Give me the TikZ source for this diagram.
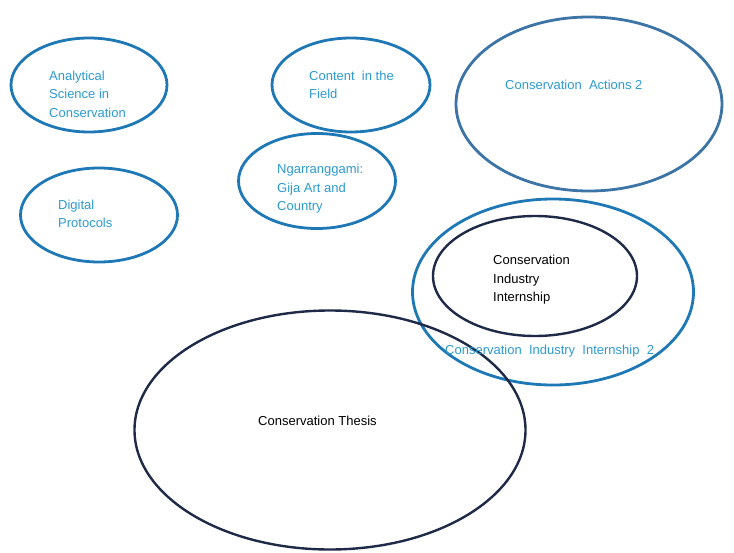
\documentclass[tikz,border=0pt]{standalone}
\usepackage{fontspec}
\setmainfont{Liberation Sans}
\usetikzlibrary{shapes.geometric}
\definecolor{ringblue}{HTML}{1F78B6}
\definecolor{ringsteel}{HTML}{3D74A6}
\definecolor{ringnavy}{HTML}{1E2A48}
\definecolor{txtblue}{HTML}{2C9AD2}
\tikzset{
  ring/.style={ellipse, draw=ringblue, line width=2.8pt, inner sep=0pt},
  darkring/.style={ellipse, draw=ringnavy, line width=2.4pt, inner sep=0pt},
  lbl/.style={text=txtblue, align=left, anchor=west, inner sep=0pt, font=\fontsize{13}{18.5}\selectfont},
  dlbl/.style={lbl, text=black},
}
\begin{document}
\begin{tikzpicture}[x=1pt,y=-1pt]
\useasboundingbox (0,0) rectangle (734,552);
\node[ring, minimum width=156, minimum height=94] (e1) at (89,85) {};
\node[ring, minimum width=157, minimum height=94] (e2) at (99,215) {};
\node[ring, minimum width=158, minimum height=94] (e3) at (351,85) {};
\node[ring, minimum width=157, minimum height=95] (e4) at (317,181) {};
\node[ring, draw=ringsteel, minimum width=266, minimum height=174] (e5) at (589,104) {};
\node[ring, minimum width=281, minimum height=186] (e6) at (553,292) {};
\node[darkring, minimum width=204, minimum height=120] (e7) at (535,276) {};
\node[darkring, minimum width=391, minimum height=239] (e8) at (330,430) {};

\node[lbl] (t1) at (49,94) {Analytical\\Science in\\Conservation};
\node[lbl] (t2) at (58,214) {Digital\\Protocols};
\node[lbl] (t3) at (309,85) {Content\ \ in the\\Field};
\node[lbl] (t4) at (277,189) {Ngarranggami:\\Gija Art and\\Country};
\node[lbl] (t5) at (505,85) {Conservation\ \ Actions 2};
\node[dlbl] (t7) at (493,280) {Conservation\\Industry\\Internship};
\node[lbl] (t6) at (445,351) {Conservation\ \ Industry\ \ Internship\ \ 2};
\node[dlbl] (t8) at (258,421) {Conservation Thesis};
\end{tikzpicture}
\end{document}
